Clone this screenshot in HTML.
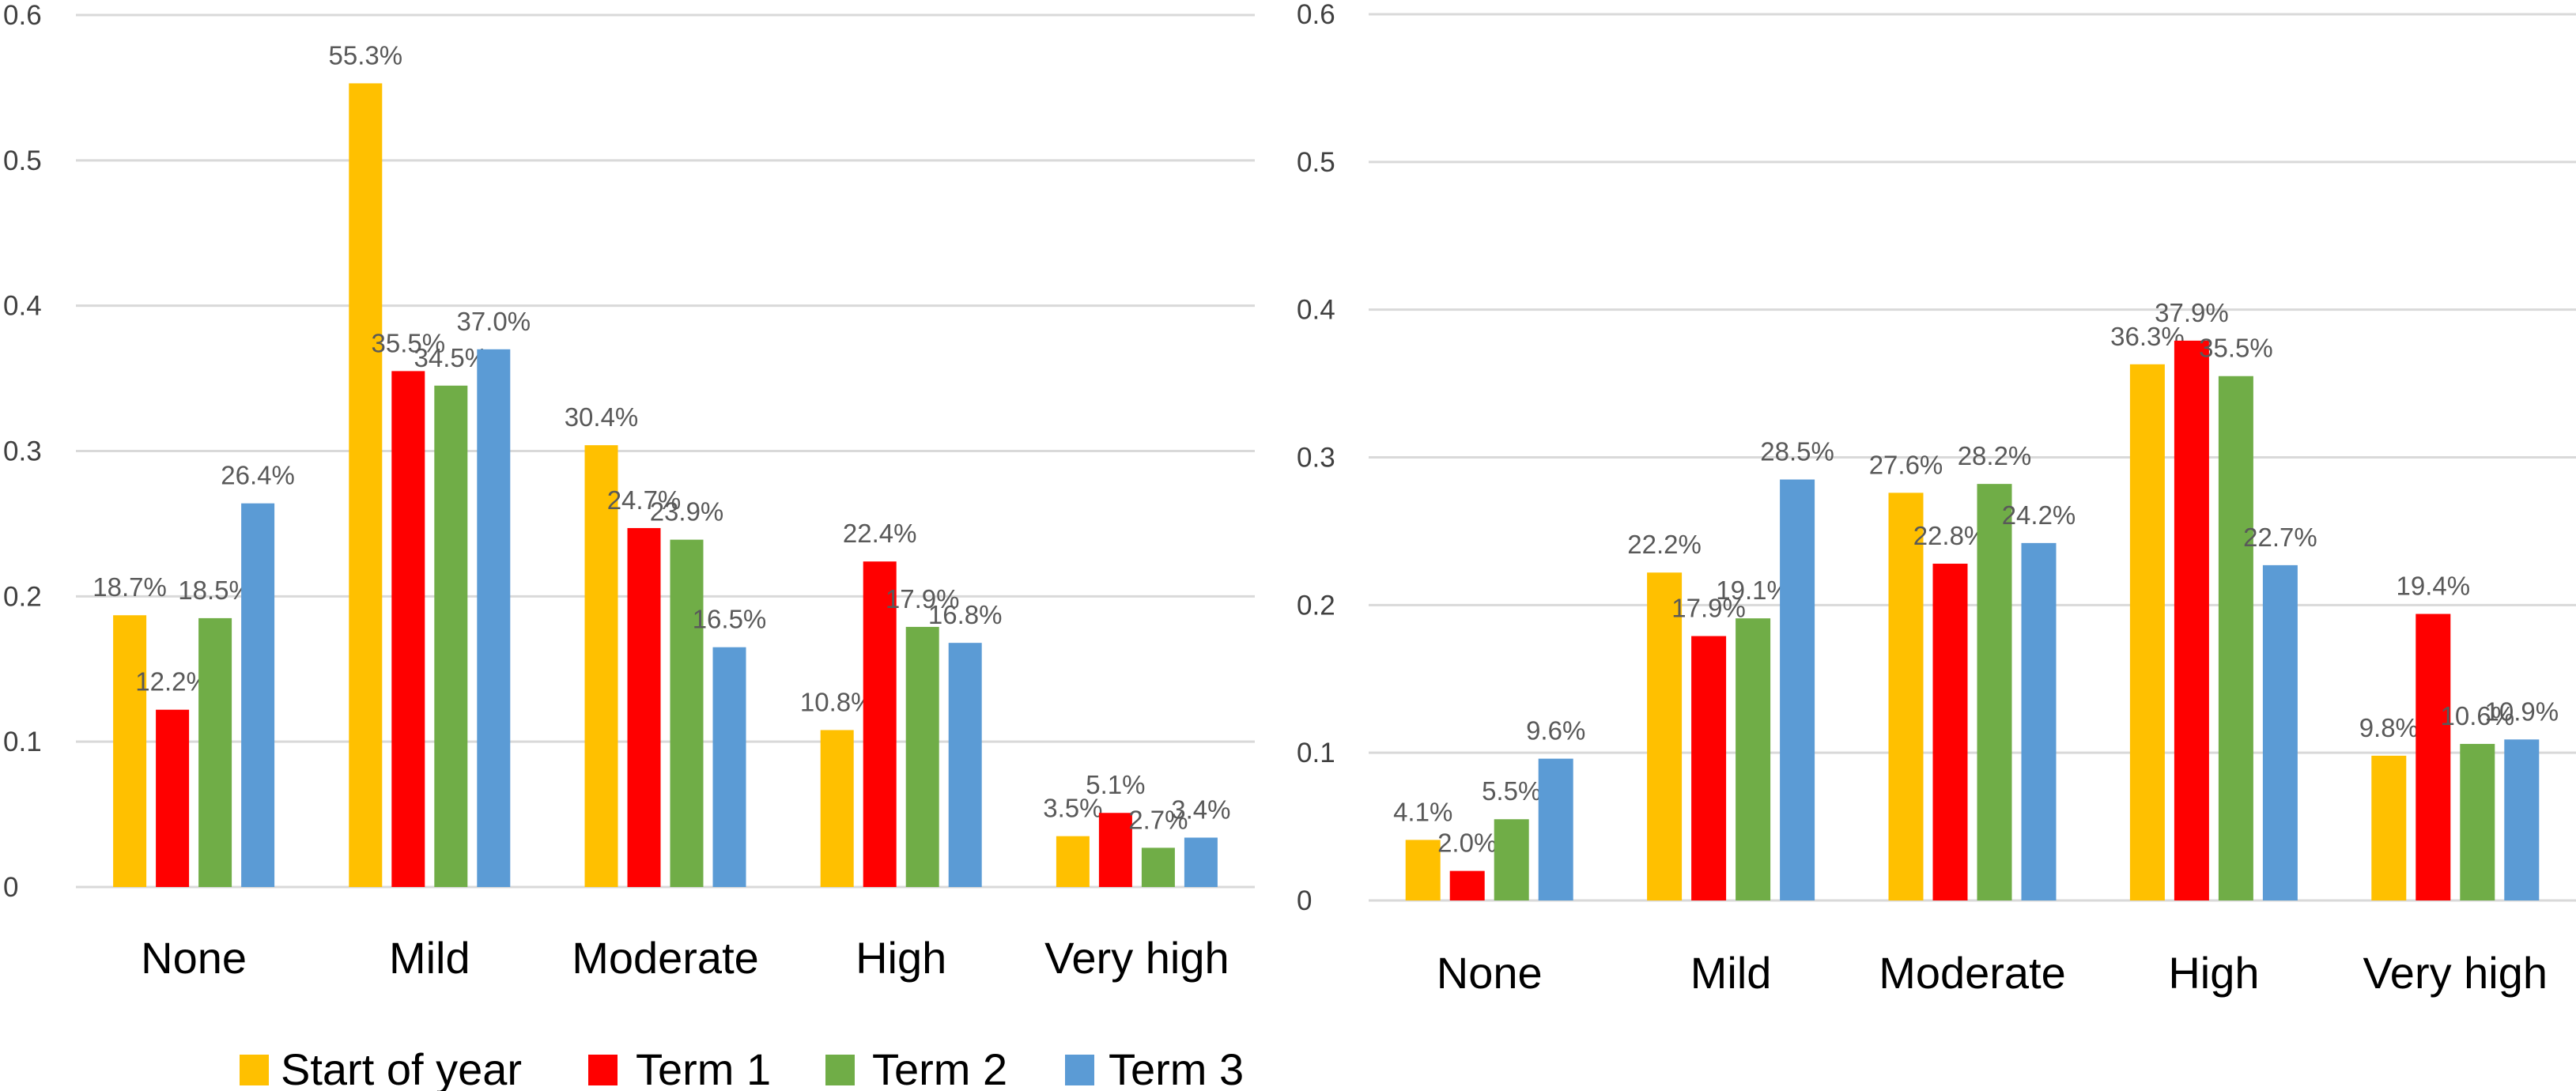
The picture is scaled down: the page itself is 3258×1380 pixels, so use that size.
<!DOCTYPE html>
<html><head><meta charset="utf-8"><style>
html,body{margin:0;padding:0;background:#fff;overflow:hidden;}
svg{display:block;font-family:"Liberation Sans",sans-serif;}
</style></head>
<body>
<svg id="chart" width="3258" height="1380" viewBox="0 0 3258 1380" xmlns="http://www.w3.org/2000/svg"></svg>
<script>
const categories = ["None","Mild","Moderate","High","Very high"];
const seriesNames = ["Start of year","Term 1","Term 2","Term 3"];
const leftStart = [0.187,0.553,0.304,0.108,0.035];
const leftTerm1 = [0.122,0.355,0.247,0.224,0.051];
const leftTerm2 = [0.185,0.345,0.239,0.179,0.027];
const leftTerm3 = [0.264,0.370,0.165,0.168,0.034];
const rightStart = [0.041,0.222,0.276,0.363,0.098];
const rightTerm1 = [0.020,0.179,0.228,0.379,0.194];
const rightTerm2 = [0.055,0.191,0.282,0.355,0.106];
const rightTerm3 = [0.096,0.285,0.242,0.227,0.109];
const yTicks = [0,0.1,0.2,0.3,0.4,0.5,0.6];
const yTickLabels = ["0","0.1","0.2","0.3","0.4","0.5","0.6"];
const colors = ["#FFC000","#FF0000","#70AD47","#5B9BD5"];

const NS = "http://www.w3.org/2000/svg";
const svg = document.getElementById("chart");
function mk(tag, attrs, parent){const e=document.createElementNS(NS,tag);for(const k in attrs)e.setAttribute(k,attrs[k]);(parent||svg).appendChild(e);return e;}

function drawPanel(cfg, series, panelName){
  const g = mk("g",{});
  
  
  const y = v => cfg.y0 - (v/0.6)*(cfg.y0-cfg.y6);
  const band = (cfg.x1-cfg.x0)/categories.length;
  const xc = i => cfg.x0 + band*(i+0.5);
  yTicks.forEach((t,i)=>{
    const l = mk("line",{x1:cfg.x0,x2:cfg.x1,y1:y(t),y2:y(t),stroke:"#D9D9D9","stroke-width":3},g);
    
    
    const tx = mk("text",{x:cfg.tickX,y:y(t)+12,"font-size":35,fill:"#404040"},g);
    tx.textContent = yTickLabels[i];
    
    
  });
  series.forEach((vals,s)=>{
    vals.forEach((v,i)=>{
      const bx = xc(i) + (s-1.5)*cfg.step - cfg.bw/2;
      const r = mk("rect",{x:bx,y:y(v),width:cfg.bw,height:y(0)-y(v),fill:colors[s]},g);
      
      
      const t = mk("text",{x:bx+cfg.bw/2,y:y(v)-24,"text-anchor":"middle","font-size":33,fill:"#595959"},g);
      t.textContent = (v*100).toFixed(1)+"%";
      
      
    });
  });
  categories.forEach((c,i)=>{
    const t = mk("text",{x:xc(i),y:cfg.labelY,"text-anchor":"middle","font-size":56,fill:"#000"},g);
    t.textContent = c;
    
    
  });
}
drawPanel({x0:96,x1:1587,y0:1122,y6:19,bw:42,step:54,tickX:4,labelY:1231},[leftStart,leftTerm1,leftTerm2,leftTerm3],"left-chart");
drawPanel({x0:1731,x1:3258,y0:1139,y6:18,bw:44,step:56,tickX:1640,labelY:1250},[rightStart,rightTerm1,rightTerm2,rightTerm3],"right-chart");

const legendSq = [303,744,1044,1347];
const legendTx = [355,804,1103,1402];
seriesNames.forEach((n,i)=>{
  const r = mk("rect",{x:legendSq[i],y:1334,width:37,height:39,fill:colors[i]});
  
  
  const t = mk("text",{x:legendTx[i],y:1372,"font-size":56,fill:"#000"});
  t.textContent = n;
  
  
});
</script>
</body></html>
